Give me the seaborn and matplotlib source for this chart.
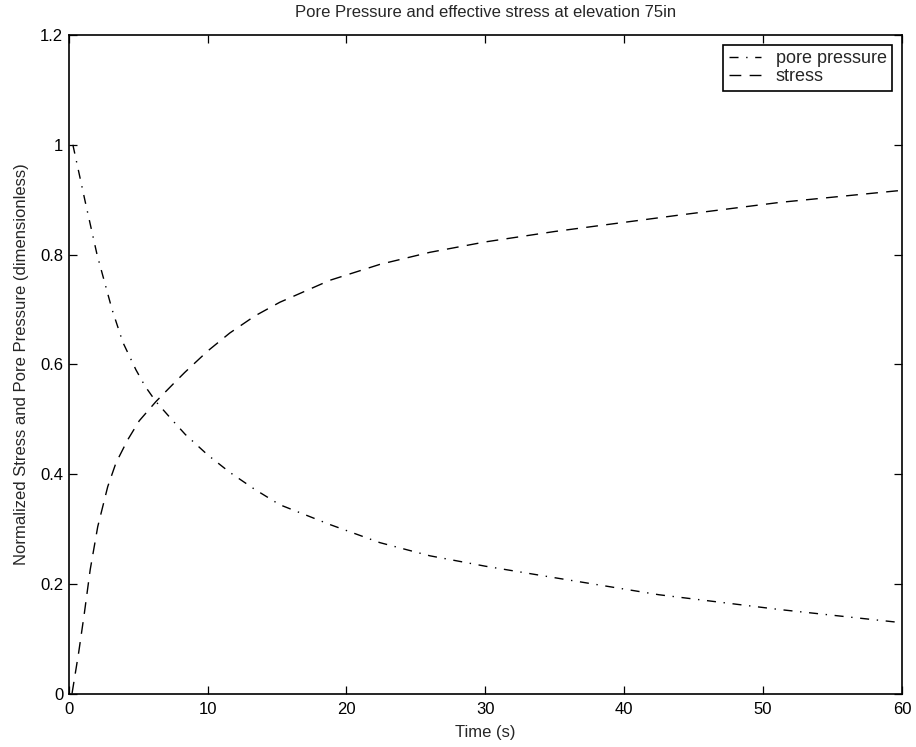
import matplotlib
matplotlib.use("Agg")
import matplotlib.pyplot as plt
import seaborn as sns
import pandas as pd

# ---- data ----
pore_time = [0.3, 1.2, 2.04, 3.12, 3.9, 4.84, 5.5, 6.28, 7.43, 8.4, 10, 11.6, 13.4, 15.2,
             18.8, 22.4, 26, 30, 35, 42.5, 51.2, 60]
pore_vals = [1.0, 0.895, 0.8, 0.7, 0.64, 0.59, 0.56, 0.532, 0.499, 0.472, 0.435, 0.403, 0.372, 0.344,
             0.308, 0.275, 0.251, 0.232, 0.211, 0.18, 0.153, 0.129]

stress_time = [0.24, 0.72, 1.12, 1.55, 2.09, 2.81, 3.40, 4.24, 5.08, 6.28, 7.48, 8.35, 10, 11.6,
               13.4, 15.2, 18.8, 22.4, 26, 30, 35, 44, 51.2, 60]
stress_vals = [0.0, 0.075, 0.145, 0.226, 0.304, 0.377, 0.420, 0.462, 0.497, 0.532, 0.563, 0.585, 0.624, 0.657,
               0.688, 0.713, 0.753, 0.782, 0.804, 0.823, 0.842, 0.872, 0.895, 0.917]

x_ticks = [0, 10, 20, 30, 40, 50, 60]
y_ticks = [0, 0.2, 0.4, 0.6, 0.8, 1.0, 1.2]
y_ticklabels = ["0", "0.2", "0.4", "0.6", "0.8", "1", "1.2"]

title = "Pore Pressure and effective stress at elevation 75in"
xlabel = "Time (s)"
ylabel = "Normalized Stress and Pore Pressure (dimensionless)"

sns.set_theme(style="ticks")
plt.rcParams["font.family"] = ["Liberation Sans", "DejaVu Sans"]

fig = plt.figure(figsize=(9.16, 7.47), dpi=100)
ax = fig.add_axes([0.075, 0.0716, 0.9097, 0.8815])

df_p = pd.DataFrame({"t": pore_time, "v": pore_vals})
df_s = pd.DataFrame({"t": stress_time, "v": stress_vals})

sns.lineplot(data=df_p, x="t", y="v", ax=ax, color="black", linewidth=1.0,
             label="pore pressure", errorbar=None)
sns.lineplot(data=df_s, x="t", y="v", ax=ax, color="black", linewidth=1.0,
             label="stress", errorbar=None)

DASHDOT = [6.5, 5.5, 1, 5.5]
DASH = [8.5, 6]
lines = ax.get_lines()
lines[0].set_dashes(DASHDOT)
lines[1].set_dashes(DASH)

ax.set_xlim(0, 60)
ax.set_ylim(0, 1.2)
ax.set_xticks(x_ticks)
ax.set_yticks(y_ticks)
ax.set_yticklabels(y_ticklabels)
ax.tick_params(axis="both", which="both", direction="in", length=6, width=0.9,
               top=True, right=True, labelsize=12, colors="black")
ax.tick_params(axis="x", pad=6)
ax.tick_params(axis="y", pad=4)
for s in ax.spines.values():
    s.set_visible(True)
    s.set_linewidth(1.2)
    s.set_color("black")

ax.set_title(title, fontsize=12, pad=13)
ax.set_xlabel(xlabel, fontsize=12, labelpad=6)
ax.set_ylabel(ylabel, fontsize=12, labelpad=8)

leg = ax.legend(loc="upper right", fontsize=13, frameon=True, fancybox=False,
                handlelength=1.8, handletextpad=0.8, borderpad=0.3,
                labelspacing=0.05, borderaxespad=0.55)
leg.get_frame().set_edgecolor("black")
leg.get_frame().set_linewidth(1.2)
leg.get_frame().set_alpha(1)
leg_lines = leg.get_lines()
leg_lines[0].set_dashes(DASHDOT)
leg_lines[1].set_dashes(DASH)

fig.savefig("out.png", dpi=100, facecolor="white")
